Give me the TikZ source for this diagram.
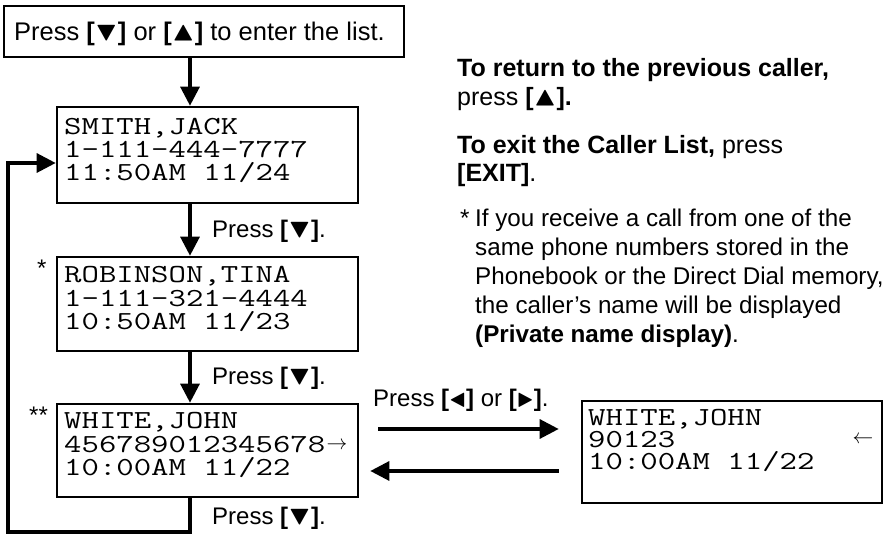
\documentclass[tikz,border=0pt]{standalone}
\usepackage{amssymb}
\usepackage{fontspec}
\usepackage{graphicx}
\setmainfont{Liberation Sans}
\usetikzlibrary{arrows.meta}

% one line of the handset display: stretched typewriter face
\newcommand{\lcdtext}[1]{\scalebox{1.3}[1]{\fontsize{26}{26}\selectfont\ttfamily #1}}
% key glyphs: large filled triangles standing on the baseline
% #1 box width, #2 symbol
\newcommand{\keyglyph}[2]{\raisebox{\depth}{\resizebox*{#1}{14.5pt}{$#2$}}}
\newcommand{\kdown}{\keyglyph{23pt}{\blacktriangledown}}
\newcommand{\kup}{\keyglyph{23pt}{\blacktriangle}}
\newcommand{\kleft}{\keyglyph{17pt}{\blacktriangleleft}}
\newcommand{\kright}{\keyglyph{17pt}{\blacktriangleright}}
% a key name in bold brackets
\newcommand{\keyb}[1]{\textbf{[}#1\textbf{]}}

\begin{document}
\begin{tikzpicture}[x=1pt,y=-1pt,
  frame/.style={draw, line width=2.6pt, inner sep=0pt},
  label/.style={inner sep=0pt, anchor=base west, font=\fontsize{24}{28}\selectfont},
  head/.style={inner sep=0pt, anchor=base west, font=\fontsize{25}{28}\selectfont},
  note/.style={inner sep=0pt, anchor=base west, font=\fontsize{24.2}{28}\selectfont},
  lcd/.style={inner sep=0pt, anchor=base west, text height=15pt, text depth=0pt},
  arr/.style={line width=3.2pt, -{Triangle[length=19pt,width=19pt]}}
]
\useasboundingbox (0,0) rectangle (887,534);

% frames
\node[frame, minimum width=400pt, minimum height=51pt] (top)   at (204,31.5) {};
\node[frame, minimum width=301pt, minimum height=96pt] (smith) at (207.5,155) {};
\node[frame, minimum width=301pt, minimum height=94pt] (robin) at (207.5,304) {};
\node[frame, minimum width=301pt, minimum height=93pt] (white) at (207.5,450.5) {};
\node[frame, minimum width=300pt, minimum height=102pt] (wide) at (732,452) {};

% header text
\node[label, font=\fontsize{25.5}{28}\selectfont] (enter) at (14,41)
  {Press \keyb{\kdown} or \keyb{\kup} to enter the list.};

% display contents
\node[lcd] (s1) at (64,135) {\lcdtext{SMITH,JACK}};
\node[lcd] (s2) at (64,158) {\lcdtext{1-111-444-7777}};
\node[lcd] (s3) at (64,181) {\lcdtext{11:50AM 11/24}};

\node[lcd] (r1) at (64,283) {\lcdtext{ROBINSON,TINA}};
\node[lcd] (r2) at (64,306.5) {\lcdtext{1-111-321-4444}};
\node[lcd] (r3) at (64,330) {\lcdtext{10:50AM 11/23}};

\node[lcd] (w1) at (64,429) {\lcdtext{WHITE,JOHN}};
\node[lcd] (w2) at (64,452.5) {\lcdtext{456789012345678}};
\node[lcd] (w3) at (64,476) {\lcdtext{10:00AM 11/22}};
\node[inner sep=0pt, font=\fontsize{20}{20}\selectfont] (wr) at (337,446) {$\rightarrow$};

\node[lcd] (x1) at (588,426) {\lcdtext{WHITE,JOHN}};
\node[lcd] (x2) at (588,448) {\lcdtext{90123}};
\node[lcd] (x3) at (588,470) {\lcdtext{10:00AM 11/22}};
\node[inner sep=0pt, font=\fontsize{20}{20}\selectfont] (xl) at (863,440) {$\leftarrow$};

% marks
\node[label] (m1) at (37,277) {*};
\node[label] (m2) at (29,424) {**};

% step labels
\node[label] (p1) at (212,238) {Press \keyb{\kdown}.};
\node[label] (p2) at (212,385) {Press \keyb{\kdown}.};
\node[label] (p3) at (212,525) {Press \keyb{\kdown}.};
\node[label] (p4) at (373,407) {Press \keyb{\kleft} or \keyb{\kright}.};

% notes on the right
\node[head] (n1) at (457,77)  {\textbf{To return to the previous caller,}};
\node[head] (n2) at (457,106) {press \textbf{[}\kup\textbf{].}};
\node[head] (n3) at (457,154) {\textbf{To exit the Caller List,} press};
\node[head] (n4) at (457,182) {\textbf{[EXIT]}.};
\node[note] (f0) at (460,227) {*};
\node[note] (f1) at (475,227) {If you receive a call from one of the};
\node[note] (f2) at (475,256) {same phone numbers stored in the};
\node[note] (f3) at (475,285) {Phonebook or the Direct Dial memory,};
\node[note] (f4) at (475,314) {the caller’s name will be displayed};
\node[note] (f5) at (475,343) {\textbf{(Private name display)}.};

% connectors
\coordinate (spine) at (190,0);
\coordinate (loopx) at (8,0);
\coordinate (loopy) at (0,532);
\coordinate (entry) at (0,163);
\draw[arr] (top.south -| spine) -- (smith.north -| spine);
\draw[arr] (smith.south -| spine) -- (robin.north -| spine);
\draw[arr] (robin.south -| spine) -- (white.north -| spine);
\draw[arr] (white.south -| spine) -- (spine |- loopy) -- (loopx |- loopy)
  -- (loopx |- entry) -- (smith.west |- entry);

\coordinate (fwd) at (0,429);
\coordinate (back) at (0,471);
\draw[arr] ([xshift=19pt]white.east |- fwd) -- ([xshift=-22pt]wide.west |- fwd);
\draw[arr] ([xshift=-22pt]wide.west |- back) -- ([xshift=11pt]white.east |- back);
\end{tikzpicture}
\end{document}
